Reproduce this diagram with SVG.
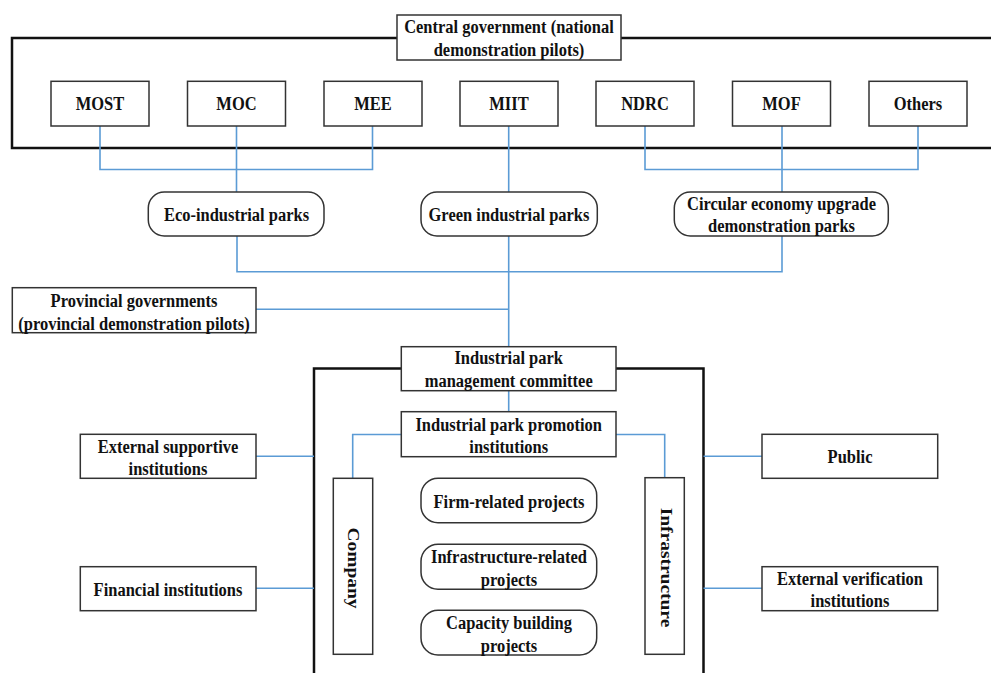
<svg xmlns="http://www.w3.org/2000/svg" width="991" height="673" viewBox="0 0 991 673">
<style>
.frame{fill:none;stroke:#111;stroke-width:2.5}
.box{fill:#fff;stroke:#333;stroke-width:1.5}
.c{fill:none;stroke:#5B9BD5;stroke-width:1.6}
text{font-family:"Liberation Serif","Times New Roman",serif;font-weight:bold;font-size:16.5px;fill:#111;text-anchor:middle}
</style>
<rect width="991" height="673" fill="#fff"/>
<g id="frames">
<rect class="frame" x="12" y="38" width="990" height="110"/>
<path class="frame" d="M314,680 V368.5 H703.5 V680"/>
</g>
<g id="connectors">
<path class="c" d="M100,126 V169.5 H372.5 V126 M236.5,126 V192"/>
<path class="c" d="M645,126 V169.5 H918 V126 M782,126 V192"/>
<path class="c" d="M508.7,126 V192"/>
<path class="c" d="M237,236 V271.7 H782 V236"/>
<path class="c" d="M508.7,236 V347"/>
<path class="c" d="M256,309.3 H508.7"/>
<path class="c" d="M508.7,391 V412"/>
<path class="c" d="M401,434.5 H352.7 V478.5"/>
<path class="c" d="M616,434.5 H664.7 V478"/>
<path class="c" d="M256,456.3 H314"/>
<path class="c" d="M256,588.3 H314"/>
<path class="c" d="M703.5,456.3 H762"/>
<path class="c" d="M703.5,588.3 H762"/>
</g>
<g id="central"><rect class="box" x="397" y="15" width="224" height="45"/><text transform="matrix(1 0 0 1.18 509 33.2)">Central government (national</text><text transform="matrix(1 0 0 1.18 509 55.8)">demonstration pilots)</text></g>
<g id="most"><rect class="box" x="51" y="81.3" width="98" height="44.7"/><text transform="matrix(1 0 0 1.18 100 110)">MOST</text></g>
<g id="moc"><rect class="box" x="187.5" y="81.3" width="98" height="44.7"/><text transform="matrix(1 0 0 1.18 236.5 110)">MOC</text></g>
<g id="mee"><rect class="box" x="324" y="81.3" width="98" height="44.7"/><text transform="matrix(1 0 0 1.18 373 110)">MEE</text></g>
<g id="miit"><rect class="box" x="460" y="81.3" width="98" height="44.7"/><text transform="matrix(1 0 0 1.18 509 110)">MIIT</text></g>
<g id="ndrc"><rect class="box" x="596" y="81.3" width="98" height="44.7"/><text transform="matrix(1 0 0 1.18 645 110)">NDRC</text></g>
<g id="mof"><rect class="box" x="732.5" y="81.3" width="98" height="44.7"/><text transform="matrix(1 0 0 1.18 781.5 110)">MOF</text></g>
<g id="others"><rect class="box" x="869" y="81.3" width="98" height="44.7"/><text transform="matrix(1 0 0 1.18 918 110)">Others</text></g>
<g id="eco"><rect class="box" x="148.3" y="192" width="175.7" height="44" rx="16"/><text transform="matrix(1 0 0 1.18 236.5 220.5)">Eco-industrial parks</text></g>
<g id="green"><rect class="box" x="421" y="192" width="176.3" height="44" rx="16"/><text transform="matrix(1 0 0 1.18 509 220.5)">Green industrial parks</text></g>
<g id="circular"><rect class="box" x="674.3" y="192" width="214" height="44" rx="16"/><text transform="matrix(1 0 0 1.18 781.5 209.8)">Circular economy upgrade</text><text transform="matrix(1 0 0 1.18 781.5 231.5)">demonstration parks</text></g>
<g id="provincial"><rect class="box" x="12.3" y="287.7" width="243.7" height="45"/><text transform="matrix(1 0 0 1.18 134 306.5)">Provincial governments</text><text transform="matrix(1 0 0 1.18 134 329.8)">(provincial demonstration pilots)</text></g>
<g id="committee"><rect class="box" x="401.3" y="346.7" width="214.7" height="44"/><text transform="matrix(1 0 0 1.18 508.7 363.8)">Industrial park</text><text transform="matrix(1 0 0 1.18 508.7 386.5)">management committee</text></g>
<g id="promotion"><rect class="box" x="401.3" y="411.7" width="214.7" height="45"/><text transform="matrix(1 0 0 1.18 508.7 430.5)">Industrial park promotion</text><text transform="matrix(1 0 0 1.18 508.7 453.2)">institutions</text></g>
<g id="company"><rect class="box" x="333.3" y="478.3" width="39.4" height="176"/><text transform="translate(354,568) scale(1,1.18) rotate(90)" x="0" y="5.5">Company</text></g>
<g id="infrastructure"><rect class="box" x="645" y="477.7" width="39.3" height="176.6"/><text transform="translate(667,567.5) scale(1,1.18) rotate(90)" x="0" y="5.5">Infrastructure</text></g>
<g id="firm"><rect class="box" x="421" y="478.3" width="175.7" height="44.4" rx="17"/><text transform="matrix(1 0 0 1.18 509 508.2)">Firm-related projects</text></g>
<g id="infraproj"><rect class="box" x="421" y="544.3" width="175.7" height="45" rx="17"/><text transform="matrix(1 0 0 1.18 509 563.2)">Infrastructure-related</text><text transform="matrix(1 0 0 1.18 509 585.5)">projects</text></g>
<g id="capacity"><rect class="box" x="421" y="610.3" width="175.7" height="44.7" rx="17"/><text transform="matrix(1 0 0 1.18 509 629.2)">Capacity building</text><text transform="matrix(1 0 0 1.18 509 651.5)">projects</text></g>
<g id="supportive"><rect class="box" x="80.3" y="434.3" width="175.7" height="44"/><text transform="matrix(1 0 0 1.18 168 452.5)">External supportive</text><text transform="matrix(1 0 0 1.18 168 474.8)">institutions</text></g>
<g id="financial"><rect class="box" x="80.3" y="566.7" width="175.7" height="44"/><text transform="matrix(1 0 0 1.18 168 595.8)">Financial institutions</text></g>
<g id="public"><rect class="box" x="762" y="434.3" width="175.7" height="44"/><text transform="matrix(1 0 0 1.18 850 463.2)">Public</text></g>
<g id="verification"><rect class="box" x="762" y="566.7" width="175.7" height="44"/><text transform="matrix(1 0 0 1.18 850 584.8)">External verification</text><text transform="matrix(1 0 0 1.18 850 606.5)">institutions</text></g>
</svg>
